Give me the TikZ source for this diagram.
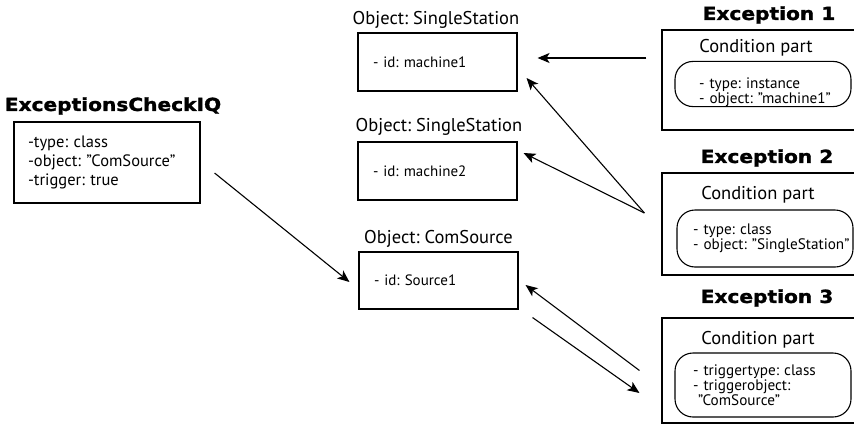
\documentclass[tikz,border=0pt]{standalone}
\usepackage{fontspec}
\setmainfont{PT Sans}
\newfontfamily\heavyfont{DejaVu Sans}[BoldFeatures={FakeStretch=1.12,FakeBold=1.5}]
\usetikzlibrary{arrows.meta}
\frenchspacing
\tikzset{
  title/.style={font=\heavyfont\bfseries\fontsize{18}{18}\selectfont, inner sep=0pt},
  caption/.style={font=\fontsize{18.5}{18.5}\selectfont, inner sep=0pt},
  objbox/.style={draw, line width=1.1pt, minimum width=159pt, minimum height=58pt, text width=129pt, align=left, inner sep=0pt, font=\fontsize{15}{15}\selectfont},
  checkbox/.style={draw, line width=1.1pt, minimum width=186pt, minimum height=81pt, text width=158pt, align=left, inner sep=0pt, font=\fontsize{16.5}{19}\selectfont},
  excbox/.style={draw, line width=1.1pt, minimum width=220pt},
  condbox/.style={draw, rounded corners=18pt, line width=1.1pt, minimum width=176pt, align=left, inner sep=0pt, font=\fontsize{15.2}{13.5}\selectfont},
  arr/.style={-{Stealth[length=12pt,width=10pt,inset=3pt]}, line width=1.1pt}
}
\begin{document}
\begin{tikzpicture}[x=1pt,y=-1pt]
      \useasboundingbox (0,0) rectangle (854,434);
      \clip (0,0) rectangle (854,434);
      \node[title] (checktitle) at (113,106) {ExceptionsCheckIQ};
      \node[checkbox] (check) at (107,162.5) {-type: class\\\mbox{-object: "ComSource"}\\-trigger: true};
      \node[caption] (ss1label) at (436,20) {Object: SingleStation};
      \node[objbox] (ss1) at (437.5,62) {- id: machine1};
      \node[caption] (ss2label) at (439,127) {Object: SingleStation};
      \node[objbox] (ss2) at (437.5,171) {- id: machine2};
      \node[caption] (srclabel) at (438.5,239) {Object: ComSource};
      \node[objbox, minimum height=57pt] (src) at (438.5,280.5) {- id: Source1};
      \node[title] (exc1title) at (769,15) {Exception 1};
      \node[excbox, minimum height=100pt] (exc1) at (772,80) {};
      \node[caption] (cond1title) at (756,48) {Condition part};
      \node[condbox, minimum height=43pt, text width=128pt] (cond1) at (763,84) {\rule{0pt}{27pt}\mbox{- type: instance}\\\mbox{- object: "machine1"}};
      \node[title] (exc2title) at (767,158) {Exception 2};
      \node[excbox, minimum height=102pt] (exc2) at (772,224) {};
      \node[caption] (cond2title) at (758,195) {Condition part};
      \node[condbox, minimum height=57pt, text width=144pt] (cond2) at (765,238.5) {\mbox{- type: class}\\\mbox{- object: "SingleStation"}};
      \node[title] (exc3title) at (767,298) {Exception 3};
      \node[excbox, minimum height=105pt] (exc3) at (772,370.5) {};
      \node[caption] (cond3title) at (758,340) {Condition part};
      \node[condbox, minimum height=64pt, text width=140pt] (cond3) at (763,385) {\mbox{- triggertype: class}\\\mbox{- triggerobject:}\\\hspace*{5pt}"ComSource"};
      \draw[arr] ([xshift=14pt,yshift=-10.5pt]check.east) -- ([xshift=-9pt,yshift=-1.5pt]src.west);
      \draw[arr] ([xshift=-15pt,yshift=22pt]exc1.west) -- ([xshift=20pt,yshift=4pt]ss1.east);
      \coordinate (fork) at ([xshift=-17pt,yshift=11pt]exc2.west);
      \draw[arr] (fork) -- ([xshift=9pt,yshift=-16pt]ss1.east);
      \draw[arr] (fork) -- ([xshift=6pt,yshift=18pt]ss2.east);
      \draw[arr] ([xshift=-22pt]exc3.west) -- ([xshift=7pt,yshift=-4.5pt]src.east);
      \draw[arr] ([xshift=14pt,yshift=-8pt]src.south east) -- ([xshift=-22pt,yshift=-22.5pt]exc3.west);
    \end{tikzpicture}
\end{document}
